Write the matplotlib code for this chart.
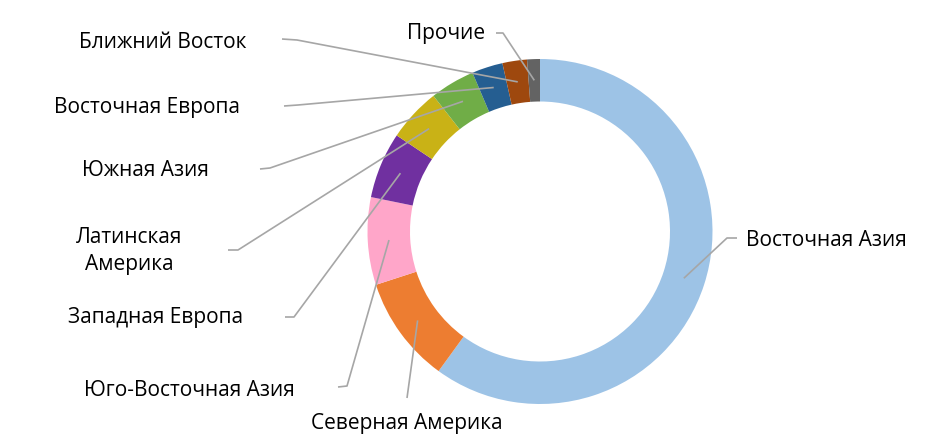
import numpy as np
import matplotlib.pyplot as plt

# regions, clockwise from 12 o'clock
regions = ["Восточная Азия", "Северная Америка", "Юго-Восточная Азия",
           "Западная Европа", "Латинская\nАмерика", "Южная Азия",
           "Восточная Европа", "Ближний Восток", "Прочие"]
shares = [60.0, 10.0, 8.2, 6.2, 5.0, 4.2, 2.9, 2.3, 1.2]
colors = ["#9DC3E6", "#ED7D31", "#FFA6C9", "#7030A0", "#C9B216",
          "#70AD47", "#255E91", "#9E480E", "#636363"]

W, H = 941, 447
# label centre, line start, elbow (pixel coords, y down)
label_layout = [
    ((826, 240), (737, 238), (727, 238)),
    ((407, 423), (407, 398), (407, 398)),
    ((189, 390), (338, 387), (347, 386)),
    ((156, 318), (285, 317), (294, 317)),
    ((129, 251), (228, 250), (238, 250)),
    ((145, 170), (260, 169), (270, 168)),
    ((147, 107), (284, 106), (298, 105)),
    ((163, 42), (282, 39), (297, 40)),
    ((446, 33), (496, 33), (503, 33)),
]

plt.rcParams['font.family'] = ['Open Sans', 'DejaVu Sans']

fig = plt.figure(figsize=(W / 100, H / 100), dpi=100)
ax = fig.add_axes([0, 0, 1, 1])

radius = 172.5
ring = 42.5
wedges, _ = ax.pie(shares, colors=colors, startangle=90, counterclock=False,
                   center=(540, H - 231.5), radius=radius,
                   wedgeprops=dict(width=ring, edgecolor='none'))

# pie() resets the limits, so set them afterwards
ax.set_xlim(0, W)
ax.set_ylim(0, H)
ax.set_aspect('equal')
ax.axis('off')

for w, name, (txt, start, elbow) in zip(wedges, regions, label_layout):
    mid = np.deg2rad((w.theta1 + w.theta2) / 2)
    r = radius - ring / 2
    ax_ = w.center[0] + r * np.cos(mid)
    ay_ = w.center[1] + r * np.sin(mid)
    xs = [start[0], elbow[0], ax_]
    ys = [H - start[1], H - elbow[1], ay_]
    ax.plot(xs, ys, color="#A6A6A6", lw=1.2, solid_capstyle='butt', zorder=3)
    ax.text(txt[0], H - txt[1], name, ha='center', va='center',
            fontsize=15, color='black', linespacing=1.4)

fig.savefig("out.png", dpi=100)
